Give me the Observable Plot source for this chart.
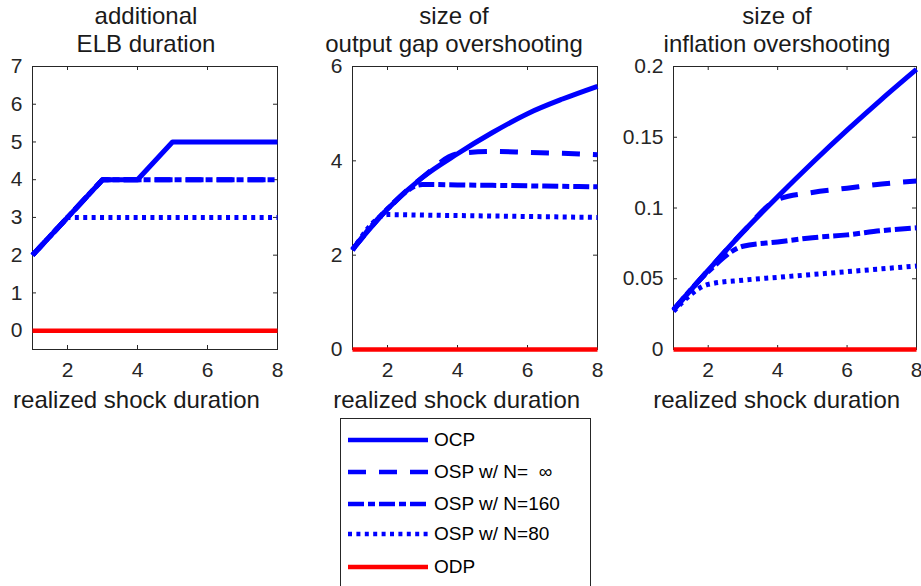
<!DOCTYPE html>
<html><head><meta charset="utf-8">
<script src="https://cdn.jsdelivr.net/npm/d3@7"></script>
<script src="https://cdn.jsdelivr.net/npm/@observablehq/plot@0.6"></script>
<style>
body{margin:0;background:#fff;}
#wrap{position:relative;width:921px;height:586px;overflow:hidden;font-family:"Liberation Sans",Arial,sans-serif;color:#262626;background:#fff;}
.panel{position:absolute;top:0;}
.panel svg{background:transparent !important;overflow:visible;}
.ttl{position:absolute;text-align:center;font-size:24px;line-height:28px;white-space:nowrap;transform:translateX(-50%);color:#1a1a1a;}
.legend{position:absolute;left:340px;top:418px;width:251px;height:200px;border:1px solid #262626;box-sizing:border-box;background:#fff;}
.lrow{position:absolute;left:0;height:28px;display:flex;align-items:center;font-size:19px;color:#000;white-space:pre;}
.lrow svg{margin-left:7px;margin-right:6px;}
</style></head>
<body><div id="wrap"></div>
<script>
// ---- data ----
const shockDuration = [1, 2, 3, 4, 5, 6, 7, 8];
const seriesNames = ["OCP", "OSP w/ N=  \u221e", "OSP w/ N=160", "OSP w/ N=80", "ODP"];

// panel 1: additional ELB duration
const elbOCP    = [2, 3, 4, 4, 5, 5, 5, 5];
const elbOSPinf = [2, 3, 4, 4, 4, 4, 4, 4];
const elbOSP160 = [2, 3, 4, 4, 4, 4, 4, 4];
const elbOSP80  = [2, 3, 3, 3, 3, 3, 3, 3];
const elbODP    = [0, 0, 0, 0, 0, 0, 0, 0];

// panel 2: size of output gap overshooting
const gapOCP    = [2.12, 2.98, 3.65, 4.15, 4.6, 5.0, 5.31, 5.58];
const gapOSPinf = [2.12, 2.98, 3.65, 4.15, 4.2, 4.18, 4.16, 4.13];
const gapOSP160 = [2.12, 2.98, 3.5, 3.49, 3.48, 3.47, 3.46, 3.45];
const gapOSP80  = [2.1, 2.86, 2.85, 2.84, 2.83, 2.82, 2.81, 2.8];
const gapODP    = [0, 0, 0, 0, 0, 0, 0, 0];

// panel 3: size of inflation overshooting
const infOCP    = [0.028, 0.056, 0.083, 0.108, 0.132, 0.155, 0.177, 0.198];
const infOSPinf = [0.028, 0.056, 0.083, 0.106, 0.111, 0.114, 0.117, 0.119];
const infOSP160 = [0.028, 0.055, 0.073, 0.076, 0.079, 0.081, 0.084, 0.086];
const infOSP80  = [0.027, 0.046, 0.049, 0.051, 0.053, 0.055, 0.057, 0.059];
const infODP    = [0, 0, 0, 0, 0, 0, 0, 0];

const xTicks = [2, 4, 6, 8];
const elbTicks = [0, 1, 2, 3, 4, 5, 6, 7];
const gapTicks = [0, 2, 4, 6];
const infTicks = [0, 0.05, 0.1, 0.15, 0.2];

const titles = [["additional", "ELB duration"], ["size of", "output gap overshooting"], ["size of", "inflation overshooting"]];
const xLabel = "realized shock duration";

// ---- styles ----
const colors = ["#0000ff", "#0000ff", "#0000ff", "#0000ff", "#ff0000"];
const dashes = [null, "18,13", "16,4,7,4", "4,4.4", null];
const widths = [5, 5, 5, 5, 4.5];

const wrap = document.getElementById("wrap");
const H = 420, MT = 66, MB = 71;

function panel(series, yDomain, yTicks, curve, left, W, ML, MR, titleX, labelX) {
  const frameW = W - ML - MR, frameH = H - MT - MB;
  const marks = [
    Plot.frame({stroke: "#262626", strokeWidth: 1}),
    Plot.tickX(xTicks, {x: d => d, insetTop: frameH - 4, stroke: "#262626"}),
    Plot.tickX(xTicks, {x: d => d, insetBottom: frameH - 4, stroke: "#262626"}),
    Plot.tickY(yTicks, {y: d => d, insetRight: frameW - 4, stroke: "#262626"}),
    Plot.tickY(yTicks, {y: d => d, insetLeft: frameW - 4, stroke: "#262626"})
  ];
  series.forEach((vals, i) => {
    const rows = shockDuration.map((x, j) => ({x, y: vals[j]}));
    marks.push(Plot.line(rows, {x: "x", y: "y", stroke: colors[i], strokeWidth: widths[i],
      strokeDasharray: dashes[i], strokeLinecap: "butt", strokeLinejoin: "round", curve}));
  });
  const p = Plot.plot({
    width: W, height: H, marginTop: MT, marginBottom: MB, marginLeft: ML, marginRight: MR,
    style: {fontFamily: '"Liberation Sans", Arial, sans-serif', fontSize: "21px", color: "#262626", background: "transparent"},
    x: {domain: [1, 8], ticks: xTicks, tickSize: 0, tickPadding: 13, label: null, tickFormat: d => String(d)},
    y: {domain: yDomain, ticks: yTicks, tickSize: 0, tickPadding: 10, label: null, tickFormat: d => String(d)},
    marks
  });
  const div = document.createElement("div");
  div.className = "panel";
  div.style.left = left + "px";
  div.appendChild(p);
  wrap.appendChild(div);

  const t = document.createElement("div");
  t.className = "ttl";
  t.style.left = titleX + "px";
  t.style.top = "2px";
  t.innerHTML = titles[series.idx][0] + "<br>" + titles[series.idx][1];
  wrap.appendChild(t);

  const l = document.createElement("div");
  l.className = "ttl";
  l.style.left = labelX + "px";
  l.style.top = "386px";
  l.textContent = xLabel;
  wrap.appendChild(l);
}

const s1 = [elbOCP, elbOSPinf, elbOSP160, elbOSP80, elbODP]; s1.idx = 0;
const s2 = [gapOCP, gapOSPinf, gapOSP160, gapOSP80, gapODP]; s2.idx = 1;
const s3 = [infOCP, infOSPinf, infOSP160, infOSP80, infODP]; s3.idx = 2;

panel(s1, [-0.5, 7], elbTicks, "linear", 0, 300, 32, 23, 146, 136.5);
panel(s2, [0, 6], gapTicks, "monotone-x", 300, 310, 52, 13, 454, 456.7);
panel(s3, [0, 0.2], infTicks, "monotone-x", 610, 311, 63, 5, 777, 776.7);

// ---- legend ----
const leg = document.createElement("div");
leg.className = "legend";
const rowY = [21, 53, 85, 115, 148];
seriesNames.forEach((name, i) => {
  const r = document.createElement("div");
  r.className = "lrow";
  r.style.top = (rowY[i] - 14) + "px";
  const svgNS = "http://www.w3.org/2000/svg";
  const sv = document.createElementNS(svgNS, "svg");
  sv.setAttribute("width", 80); sv.setAttribute("height", 10);
  const ln = document.createElementNS(svgNS, "line");
  ln.setAttribute("x1", 0); ln.setAttribute("x2", 80); ln.setAttribute("y1", 5); ln.setAttribute("y2", 5);
  ln.setAttribute("stroke", colors[i]); ln.setAttribute("stroke-width", 4.5);
  if (dashes[i]) ln.setAttribute("stroke-dasharray", dashes[i]);
  sv.appendChild(ln);
  r.appendChild(sv);
  const tx = document.createElement("span");
  tx.textContent = name;
  r.appendChild(tx);
  leg.appendChild(r);
});
wrap.appendChild(leg);
</script>
</body></html>
